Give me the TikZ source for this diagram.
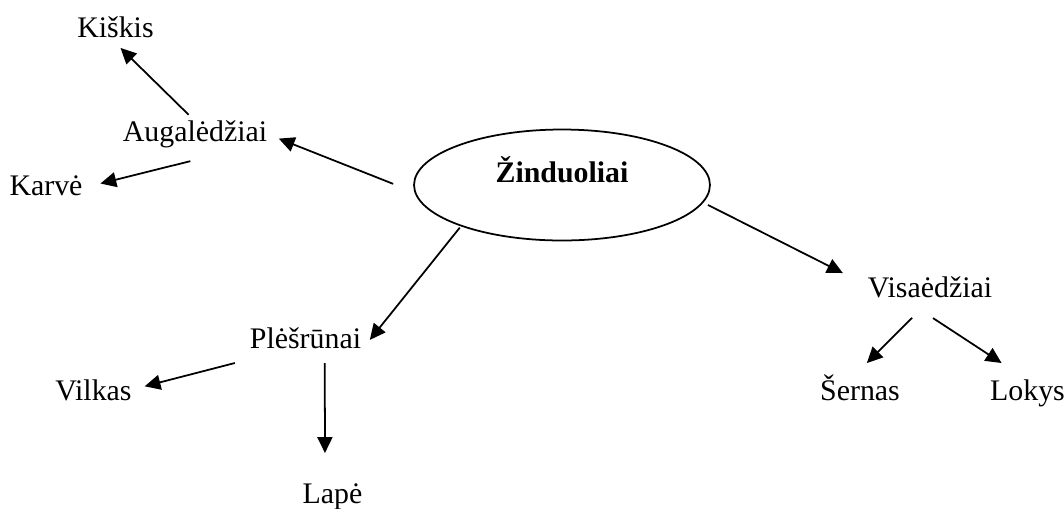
\documentclass[tikz,border=0pt]{standalone}
\usepackage{fontspec}
\setmainfont{Liberation Serif}
\usetikzlibrary{arrows.meta,shapes.geometric}

\begin{document}
\begin{tikzpicture}[x=0.02cm,y=-0.02cm,
  word/.style={inner sep=0pt,outer sep=0pt,text height=0.4cm,text depth=0.12cm,
    font=\fontsize{17pt}{20pt}\selectfont},
  arr/.style={-{Triangle[length=9pt,width=8.5pt]},line width=1pt}]
  \useasboundingbox (0,0) rectangle (1064,508);

  % centre
  \node[ellipse,draw,line width=1pt,minimum width=5.92cm,minimum height=2.22cm,
    inner sep=0pt,outer sep=0pt,text height=0.4cm,text depth=0.52cm,
    font=\fontsize{17pt}{20pt}\selectfont\bfseries] (zind) at (562,185) {Žinduoliai};

  % augalėdžiai
  \node[word] (aug) at (195,134) {Augalėdžiai};
  \node[word] (kis) at (115.5,30) {Kiškis};
  \node[word] (karve) at (46,188) {Karvė};

  % plėšrūnai
  \node[word] (plesr) at (305.5,341) {Plėšrūnai};
  \node[word] (vilkas) at (93.5,393) {Vilkas};
  \node[word] (lape) at (332.5,496) {Lapė};

  % visaėdžiai
  \node[word] (visa) at (930,290) {Visaėdžiai};
  \node[word] (sernas) at (860,393) {Šernas};
  \node[word] (lokys) at (1027.5,393) {Lokys};

  \draw[arr,shorten <=0.18cm,shorten >=0.14cm] (aug.north) -- (kis.south);
  \draw[arr,shorten <=0.48cm,shorten >=0.25cm] (zind.183) -- (aug.east);
  \draw[arr,shorten <=1.17cm,shorten >=0.37cm] (aug.-14) -- (karve.east);

  \draw[arr,shorten <=0.05cm,shorten >=0.28cm] (zind.202) -- (plesr.-10);
  \draw[arr,shorten <=0.72cm,shorten >=0.27cm] (plesr.200) -- (vilkas.5);
  \draw[arr,shorten <=0.18cm,shorten >=0.6cm] (plesr.-34) -- (lape.120);

  \draw[arr,shorten <=0.12cm,shorten >=0.56cm] (zind.-7) -- (visa.176);
  \draw[arr,shorten <=0.42cm,shorten >=0.48cm] (visa.257) -- (sernas.128);
  \draw[arr,shorten <=0.55cm,shorten >=0.62cm] (visa.213) -- (lokys.north);
\end{tikzpicture}
\end{document}
